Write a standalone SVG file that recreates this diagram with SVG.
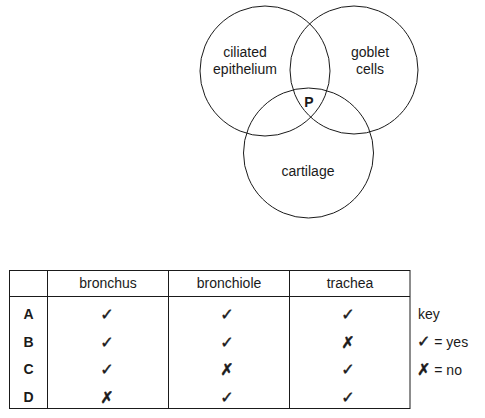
<svg xmlns="http://www.w3.org/2000/svg" width="485" height="418" viewBox="0 0 485 418">
<style>
.c{fill:none;stroke:#1a1a1a;stroke-width:1}
.t{font-family:"Liberation Sans",Arial,sans-serif;font-size:14px;fill:#1a1a1a;text-anchor:middle}
.b{font-weight:bold}
.s{font-family:"DejaVu Sans",sans-serif;font-size:16px;fill:#1a1a1a;stroke:#1a1a1a;stroke-width:0.5;text-anchor:middle}
.k{font-family:"DejaVu Sans",sans-serif;font-size:16px;stroke:#1a1a1a;stroke-width:0.5}
.g{fill:none;stroke:#1a1a1a;stroke-width:1}
</style>
<rect width="485" height="418" fill="#fff"/>
<g id="venn">
<g id="ciliated"><circle class="c" cx="265" cy="71" r="65"/><text class="t" x="245" y="57">ciliated</text><text class="t" x="245" y="74">epithelium</text></g>
<g id="goblet"><circle class="c" cx="354" cy="70" r="64"/><text class="t" x="370" y="57">goblet</text><text class="t" x="370" y="74">cells</text></g>
<g id="cartilage"><circle class="c" cx="308.5" cy="153" r="65"/><text class="t" x="308" y="176">cartilage</text></g>
<g id="P"><text class="t b" x="309" y="107">P</text></g>
</g>
<g id="table">
<g class="g">
<rect x="9.5" y="270.5" width="400.5" height="138"/>
<line x1="9.5" y1="296.5" x2="410" y2="296.5"/>
<line x1="47.5" y1="270.5" x2="47.5" y2="408.5"/>
<line x1="168.5" y1="270.5" x2="168.5" y2="408.5"/>
<line x1="289.5" y1="270.5" x2="289.5" y2="408.5"/>
</g>
<text class="t" x="108" y="288">bronchus</text>
<text class="t" x="229" y="288">bronchiole</text>
<text class="t" x="350" y="288">trachea</text>
<text class="t b" x="28.5" y="319">A</text>
<text class="t b" x="28.5" y="346.5">B</text>
<text class="t b" x="28.5" y="374">C</text>
<text class="t b" x="28.5" y="401.5">D</text>
<text class="s" x="107" y="320">✓</text><text class="s" x="227" y="320">✓</text><text class="s" x="348" y="320">✓</text>
<text class="s" x="107" y="347.5">✓</text><text class="s" x="227" y="347.5">✓</text><text class="s" x="348" y="347.5">✗</text>
<text class="s" x="107" y="375">✓</text><text class="s" x="227" y="375">✗</text><text class="s" x="348" y="375">✓</text>
<text class="s" x="107" y="402.5">✗</text><text class="s" x="227" y="402.5">✓</text><text class="s" x="348" y="402.5">✓</text>
</g>
<g id="key">
<text class="t" x="418" y="319" style="text-anchor:start">key</text>
<text x="417" y="347" style="font-family:'Liberation Sans',Arial,sans-serif;font-size:14px;fill:#1a1a1a"><tspan class="k">✓</tspan> = yes</text>
<text x="417" y="374.5" style="font-family:'Liberation Sans',Arial,sans-serif;font-size:14px;fill:#1a1a1a"><tspan class="k">✗</tspan> = no</text>
</g>
</svg>
